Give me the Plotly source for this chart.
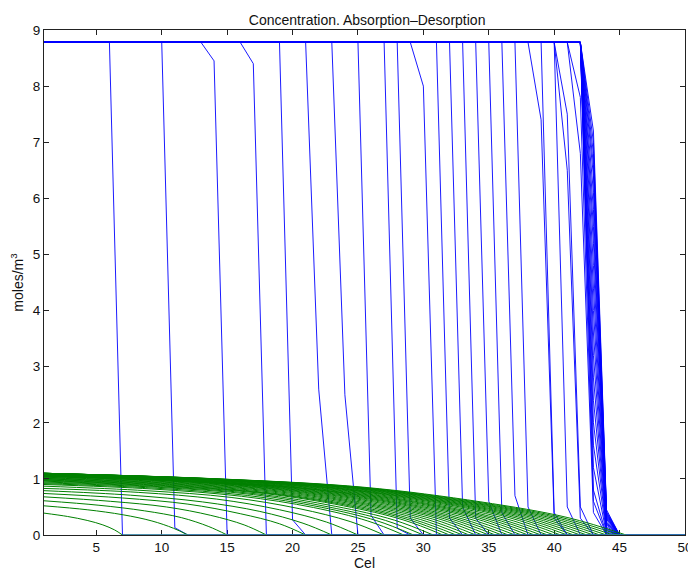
import plotly.graph_objects as go

# ---------------- data ----------------
x_min, x_max = 1, 50
plateau = 8.78

# blue profiles: flat at plateau from x=1, then these front points, then 0 up to x=50
blue_front_x = [
    [6, 7],
    [10, 11, 12],
    [13, 14, 15],
    [16, 17, 18],
    [19, 20, 21],
    [21, 22, 23],
    [23, 24, 25],
    [25, 26, 27],
    [27, 28, 29],
    [28, 29, 30],
    [29, 30, 31],
    [31, 32, 33],
    [32, 33, 34],
    [33, 34, 35],
    [34, 35, 36],
    [35, 36, 37],
    [36, 37, 38],
    [37, 38, 39],
    [38, 39, 40, 41],
    [39, 40, 41],
    [40, 41, 42],
    [40, 41, 42, 43],
    [40, 41, 42, 43],
    [41, 42, 43, 44],
    [41, 42, 43, 44],
]
blue_front_y = [
    [8.78, 0],
    [8.78, 0.13, 0],
    [8.78, 8.45, 0],
    [8.78, 8.40, 0],
    [8.78, 0.27, 0],
    [8.78, 2.6, 0],
    [8.78, 2.5, 0],
    [8.78, 0.35, 0],
    [8.78, 0.12, 0],
    [8.78, 0.30, 0],
    [8.78, 8.0, 0],
    [8.78, 0.30, 0],
    [8.78, 0.50, 0],
    [8.78, 0.30, 0],
    [8.78, 0.60, 0],
    [8.78, 0.40, 0],
    [8.78, 0.70, 0],
    [8.78, 0.50, 0],
    [8.78, 7.4, 0.3, 0],
    [8.78, 0.40, 0],
    [8.78, 0.50, 0],
    [8.78, 7.5, 0.5, 0],
    [8.78, 6.5, 0.3, 0],
    [8.78, 7.8, 0.6, 0],
    [8.78, 6.8, 0.4, 0],
]

# late profiles (front stalled near cell 42)
fan_cells = [42, 43, 44, 45]
fan_v43 = [0.8, 1.2, 1.6, 2.0, 2.4, 2.8, 3.2, 3.6, 4.0, 4.4, 4.8, 5.2, 5.5,
           5.8, 6.1, 6.4, 6.6, 6.8, 7.0, 7.2]
fan_v44 = [0.0, 0.02, 0.05, 0.08, 0.10, 0.12, 0.15, 0.18, 0.20, 0.22, 0.25,
           0.28, 0.30, 0.32, 0.34, 0.36, 0.38, 0.40, 0.42, 0.45]

# green profiles (sparse points, drawn smoothed)
green_x = [
    [1, 2.8, 4.3, 5.5, 6.4, 7],
    [1, 4.3, 7.05, 9.25, 10.9, 12],
    [1, 5.2, 8.7, 11.5, 13.6, 15],
    [1, 6.1, 10.35, 13.75, 16.3, 18],
    [1, 7.0, 12.0, 16.0, 19.0, 21],
    [1, 7.6, 13.1, 17.5, 20.8, 23],
    [1, 8.2, 14.2, 19.0, 22.6, 25],
    [1, 8.8, 15.3, 20.5, 24.4, 27],
    [1, 9.25, 16.1, 21.6, 25.75, 28.5],
    [1, 9.48, 16.54, 22.19, 26.43, 29.25],
    [1, 9.7, 17.0, 22.75, 27.1, 30],
    [1, 9.93, 17.36, 23.31, 27.78, 30.75],
    [1, 10.15, 17.8, 23.9, 28.45, 31.5],
    [1, 10.3, 18.05, 24.25, 28.9, 32],
    [1, 10.45, 18.3, 24.6, 29.35, 32.5],
    [1, 10.6, 18.6, 25.0, 29.8, 33],
    [1, 10.75, 18.9, 25.4, 30.25, 33.5],
    [1, 10.9, 19.15, 25.75, 30.7, 34],
    [1, 11.05, 19.4, 26.1, 31.15, 34.5],
    [1, 11.2, 19.7, 26.5, 31.6, 35],
    [1, 11.35, 20.0, 26.9, 32.05, 35.5],
    [1, 11.5, 20.25, 27.25, 32.5, 36],
    [1, 11.65, 20.5, 27.6, 32.95, 36.5],
    [1, 11.8, 20.8, 28.0, 33.4, 37],
    [1, 11.95, 21.1, 28.4, 33.85, 37.5],
    [1, 12.1, 21.35, 28.75, 34.3, 38],
    [1, 12.25, 21.6, 29.1, 34.75, 38.5],
    [1, 12.4, 21.9, 29.5, 35.2, 39],
    [1, 12.55, 22.2, 29.9, 35.65, 39.5],
    [1, 12.7, 22.45, 30.25, 36.1, 40],
    [1, 12.85, 22.7, 30.6, 36.55, 40.5],
    [1, 13.0, 23.0, 31.0, 37.0, 41],
    [1, 13.15, 23.3, 31.4, 37.45, 41.5],
    [1, 13.3, 23.55, 31.75, 37.9, 42],
    [1, 13.45, 23.8, 32.1, 38.35, 42.5],
    [1, 13.6, 24.1, 32.5, 38.8, 43],
    [1, 13.75, 24.4, 32.9, 39.25, 43.5],
    [1, 13.9, 24.65, 33.25, 39.7, 44],
    [1, 14.05, 24.9, 33.6, 40.15, 44.5],
    [1, 14.2, 25.2, 34.0, 40.6, 45],
    [1, 14.35, 25.5, 34.4, 41.05, 45.5],
]
green_y = [
    [0.39, 0.33, 0.26, 0.18, 0.09, 0],
    [0.52, 0.45, 0.36, 0.25, 0.12, 0],
    [0.61, 0.53, 0.43, 0.31, 0.15, 0],
    [0.68, 0.60, 0.50, 0.35, 0.18, 0],
    [0.74, 0.66, 0.55, 0.38, 0.20, 0],
    [0.79, 0.71, 0.59, 0.42, 0.21, 0],
    [0.83, 0.76, 0.64, 0.45, 0.23, 0],
    [0.87, 0.79, 0.67, 0.47, 0.24, 0],
    [0.90, 0.82, 0.69, 0.49, 0.25, 0],
    [0.915, 0.835, 0.705, 0.495, 0.255, 0],
    [0.93, 0.85, 0.72, 0.50, 0.26, 0],
    [0.945, 0.86, 0.73, 0.51, 0.265, 0],
    [0.96, 0.87, 0.74, 0.52, 0.27, 0],
    [0.97, 0.88, 0.745, 0.525, 0.27, 0],
    [0.98, 0.89, 0.75, 0.53, 0.27, 0],
    [0.99, 0.90, 0.76, 0.535, 0.275, 0],
    [1.00, 0.91, 0.77, 0.54, 0.28, 0],
    [1.01, 0.92, 0.78, 0.545, 0.285, 0],
    [1.02, 0.93, 0.79, 0.55, 0.29, 0],
    [1.03, 0.94, 0.795, 0.555, 0.29, 0],
    [1.04, 0.95, 0.80, 0.56, 0.29, 0],
    [1.045, 0.955, 0.805, 0.565, 0.29, 0],
    [1.05, 0.96, 0.81, 0.57, 0.29, 0],
    [1.055, 0.96, 0.815, 0.57, 0.295, 0],
    [1.06, 0.96, 0.82, 0.57, 0.30, 0],
    [1.065, 0.965, 0.82, 0.575, 0.30, 0],
    [1.07, 0.97, 0.82, 0.58, 0.30, 0],
    [1.075, 0.975, 0.825, 0.58, 0.30, 0],
    [1.08, 0.98, 0.83, 0.58, 0.30, 0],
    [1.085, 0.985, 0.835, 0.585, 0.305, 0],
    [1.09, 0.99, 0.84, 0.59, 0.31, 0],
    [1.093, 0.995, 0.84, 0.59, 0.31, 0],
    [1.095, 1.00, 0.84, 0.59, 0.31, 0],
    [1.098, 1.00, 0.845, 0.59, 0.31, 0],
    [1.10, 1.00, 0.85, 0.59, 0.31, 0],
    [1.10, 1.00, 0.85, 0.59, 0.31, 0],
    [1.10, 1.00, 0.85, 0.59, 0.31, 0],
    [1.10, 1.00, 0.85, 0.59, 0.31, 0],
    [1.10, 1.00, 0.85, 0.59, 0.31, 0],
    [1.10, 1.00, 0.85, 0.59, 0.31, 0],
    [1.10, 1.00, 0.85, 0.59, 0.31, 0],
]

x_ticks = [5, 10, 15, 20, 25, 30, 35, 40, 45, 50]
y_ticks = [0, 1, 2, 3, 4, 5, 6, 7, 8, 9]

title_text = "Concentration. Absorption\u2013Desorption"
x_label = "Cel"
y_label = "moles/m<sup>3</sup>"

# ---------------- figure ----------------
BLUE = "rgb(0,0,255)"
GREEN = "rgb(0,128,0)"
FONT = "Liberation Sans, Arial, Helvetica, sans-serif"
TXT = "#111111"

bx, by = [], []
for fx, fy in zip(blue_front_x, blue_front_y):
    bx += [x_min] + fx + [x_max, None]
    by += [plateau] + fy + [0, None]
for v43, v44 in zip(fan_v43, fan_v44):
    bx += [x_min] + fan_cells + [x_max, None]
    by += [plateau, plateau, v43, v44, 0, 0, None]

fig = go.Figure()
fig.add_trace(go.Scatter(x=bx, y=by, mode="lines",
                         line=dict(color=BLUE, width=0.9),
                         hoverinfo="skip", showlegend=False))

for gx, gy in zip(green_x, green_y):
    fig.add_trace(go.Scatter(x=gx, y=gy, mode="lines",
                             line=dict(color=GREEN, width=1.0, shape="spline", smoothing=1.0),
                             hoverinfo="skip", showlegend=False))
# green profiles continue at zero to the end of the column
fig.add_trace(go.Scatter(x=[green_x[0][-1], x_max], y=[0, 0], mode="lines",
                         line=dict(color="rgb(60,150,150)", width=1.5),
                         hoverinfo="skip", showlegend=False))

axis_common = dict(
    showline=True, linecolor="#222222", linewidth=1, mirror="ticks",
    ticks="inside", ticklen=5, tickcolor="#222222", tickwidth=1,
    showgrid=False, zeroline=False,
    tickfont=dict(family=FONT, size=13.5, color=TXT),
)

# page body adds an 8px offset; the figure is sized so the plot lands where the reference has it
W, H = 688, 565
fig.update_layout(
    width=W, height=H,
    margin=dict(l=36, r=11, t=22, b=38),
    paper_bgcolor="white", plot_bgcolor="white",
    title=dict(text=title_text, x=0.522, xanchor="center",
               yref="container", y=1 - 12.5 / H, yanchor="middle",
               font=dict(family=FONT, size=14, color=TXT)),
    xaxis=dict(range=[x_min, x_max], tickvals=x_ticks, layer="below traces",
               title=dict(text=x_label, standoff=3,
                          font=dict(family=FONT, size=14, color=TXT)),
               automargin=False, **axis_common),
    yaxis=dict(range=[0, 9], tickvals=y_ticks,
               title=dict(text=y_label, standoff=8,
                          font=dict(family=FONT, size=14, color=TXT)),
               automargin=False, **axis_common),
)

fig.write_html("out.html")
